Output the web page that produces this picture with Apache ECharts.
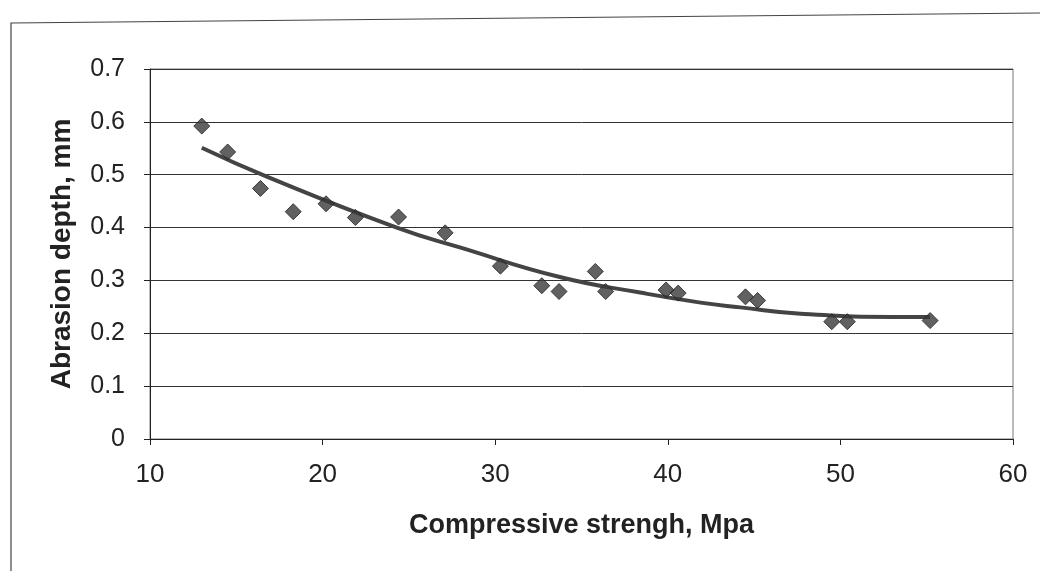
<!DOCTYPE html>
<html>
<head>
<meta charset="utf-8">
<style>html,body{margin:0;padding:0;background:#fff}#c{width:1040px;height:571px}</style>
<script src="https://cdn.jsdelivr.net/npm/echarts@6/dist/echarts.min.js"></script>
</head>
<body>
<div id="c"></div>
<script>
// Observed points: compressive strength (MPa) and abrasion depth (mm)
const strength = [13.0, 14.5, 16.4, 18.3, 20.2, 21.9, 24.4, 27.1, 30.3, 32.7, 33.7, 35.8, 36.4, 39.9, 40.6, 44.5, 45.2, 49.5, 50.4, 55.2];
const depth    = [0.592, 0.543, 0.474, 0.430, 0.445, 0.419, 0.420, 0.390, 0.327, 0.290, 0.279, 0.317, 0.279, 0.282, 0.276, 0.269, 0.262, 0.222, 0.222, 0.224];
// Trend curve
const trendX = [13.0, 16.8, 24.3, 28.0, 33.8, 38.4, 41.9, 44.2, 47.7, 53.5, 55.2];
const trendY = [0.551, 0.496, 0.400, 0.362, 0.306, 0.277, 0.258, 0.249, 0.237, 0.231, 0.231];
const xTicks = [10, 20, 30, 40, 50, 60];
const yTicks = [0, 0.1, 0.2, 0.3, 0.4, 0.5, 0.6, 0.7];

const pts = strength.map((x, i) => [x, depth[i]]);
const trend = trendX.map((x, i) => [x, trendY[i]]);
const font = '"Liberation Sans", Arial, sans-serif';

const chart = echarts.init(document.getElementById('c'));
chart.setOption({
  animation: false,
  backgroundColor: '#fff',
  graphic: [
    {type: 'polyline', shape: {points: [[11, 600], [11, 23], [1040, 13]]},
     style: {fill: 'none', stroke: '#444', lineWidth: 1.2}}
  ],
  grid: {left: 150, right: 27, top: 69, bottom: 132, show: true, borderColor: '#777', borderWidth: 1},
  xAxis: {
    type: 'value', min: xTicks[0], max: xTicks[xTicks.length - 1], interval: 10,
    name: 'Compressive strengh, Mpa', nameLocation: 'middle', nameGap: 73,
    nameTextStyle: {fontFamily: font, fontWeight: 'bold', fontSize: 27, color: '#222'},
    axisLine: {show: true, lineStyle: {color: '#222', width: 1}},
    axisTick: {show: true, length: 6, lineStyle: {color: '#222'}},
    axisLabel: {fontFamily: font, fontSize: 26, color: '#222', margin: 23},
    splitLine: {show: false}
  },
  yAxis: {
    type: 'value', min: yTicks[0], max: yTicks[yTicks.length - 1], interval: 0.1,
    name: 'Abrasion depth, mm', nameLocation: 'middle', nameGap: 74,
    nameTextStyle: {fontFamily: font, fontWeight: 'bold', fontSize: 28, color: '#222'},
    axisLine: {show: true, lineStyle: {color: '#222', width: 1}},
    axisTick: {show: true, length: 6, lineStyle: {color: '#222'}},
    axisLabel: {fontFamily: font, fontSize: 25, color: '#222', margin: 25,
      formatter: v => (Math.round(v * 10) / 10).toString()},
    splitLine: {show: true, lineStyle: {color: '#333', width: 1}}
  },
  series: [
    {
      type: 'line', data: trend, smooth: true, symbol: 'none',
      lineStyle: {color: '#444', width: 4}, z: 2
    },
    {
      type: 'scatter', data: pts, symbol: 'diamond', symbolSize: [16, 16],
      itemStyle: {color: '#3a3a3a', borderColor: '#222', borderWidth: 1}, z: 3
    }
  ]
});
</script>
</body>
</html>
